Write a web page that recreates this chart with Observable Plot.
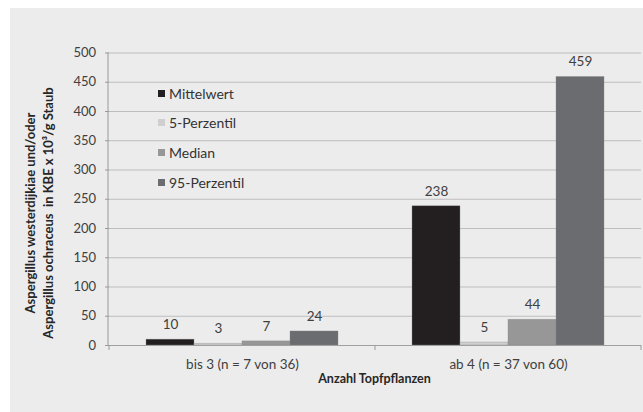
<!DOCTYPE html>
<html>
<head>
<meta charset="utf-8">
<script src="https://cdn.jsdelivr.net/npm/d3@7"></script>
<script src="https://cdn.jsdelivr.net/npm/@observablehq/plot@0.6"></script>
<style>
  html, body { margin: 0; padding: 0; background: #ffffff; }
  body { width: 643px; height: 412px; position: relative; overflow: hidden; font-family: Lato, "Open Sans", sans-serif; }
  #panel { position: absolute; left: 10px; top: 8px; width: 633px; height: 404px; background: #ececec; }
  #legend { position: absolute; left: 148px; top: 70.5px; font-size: 14px; color: #333333; }
  #legend .item { height: 29.6px; display: flex; align-items: center; }
  #legend .swatch { width: 7px; height: 7px; margin-right: 4px; }
</style>
</head>
<body>
<div id="panel">
  <div id="chart"></div>
  <div id="legend"></div>
</div>
<script>
// Pot-plant groups on the x axis
const groups = ["bis 3 (n = 7 von 36)", "ab 4 (n = 37 von 60)"];
// Statistics shown per group
const series = ["Mittelwert", "5-Perzentil", "Median", "95-Perzentil"];
// Values per statistic, one entry per group (KBE x 10³/g Staub)
const mittelwert = [10, 238];
const perzentil5 = [3, 5];
const median = [7, 44];
const perzentil95 = [24, 459];
// y-axis ticks
const yTicks = [0, 50, 100, 150, 200, 250, 300, 350, 400, 450, 500];
const colors = ["#231f20", "#cfcfcf", "#979798", "#6b6c6f"];

const valuesBySeries = [mittelwert, perzentil5, median, perzentil95];
const data = groups.flatMap((g, i) =>
  series.map((s, j) => ({group: g, series: s, value: valuesBySeries[j][i]}))
);

const W = 633, H = 404;
const plot = Plot.plot({
  width: W,
  height: H,
  marginLeft: 98,
  marginRight: 2,
  marginTop: 44.5,
  marginBottom: 67,
  style: {background: "transparent", fontFamily: "Lato, 'Open Sans', sans-serif", fontSize: "13px", color: "#404040"},
  fx: {domain: groups, padding: 0, label: null, axis: null},
  x: {domain: series, paddingInner: 0, paddingOuter: 0.747, axis: null},
  y: {domain: [0, 500], axis: null},
  color: {domain: series, range: colors},
  marks: [
    Plot.gridY(yTicks, {stroke: "#bdbdbd", strokeOpacity: 1, strokeWidth: 1}),
    Plot.axisY(yTicks, {tickSize: 4, tickPadding: 9.5, label: null, stroke: "#9a9a9a", fill: "#404040", fontSize: 13}),
    Plot.barY(data, {fx: "group", x: "series", y: "value", fill: "series", stroke: "#8c8c8c", strokeWidth: 0.6, strokeOpacity: 0.6}),
    Plot.ruleY([0], {stroke: "#a0a0a0", strokeWidth: 1.2}),
    Plot.text(data, {fx: "group", x: "series", y: "value", text: d => String(d.value), dy: -15, fill: "#404040", fontSize: 13.5}),
    Plot.axisFx({anchor: "bottom", tickSize: 0, tickPadding: 14, label: null, fill: "#404040", fontSize: 13.5})
  ]
});

document.getElementById("chart").appendChild(plot);

// Axis lines, category boundary ticks and axis titles
const svg = d3.select(plot);
const fx = plot.scale("fx");
const y = plot.scale("y");
const left = fx.range[0], right = fx.range[1];
const y0 = y.apply(0), y1 = y.apply(500);

svg.append("line")
  .attr("x1", left).attr("x2", left).attr("y1", y0).attr("y2", y1)
  .attr("stroke", "#9a9a9a").attr("stroke-width", 1);

const bounds = groups.map(g => fx.apply(g)).concat([right]);
svg.selectAll("line.boundary").data(bounds).join("line")
  .attr("class", "boundary")
  .attr("x1", d => d).attr("x2", d => d)
  .attr("y1", y0).attr("y2", y0 + 5)
  .attr("stroke", "#9a9a9a").attr("stroke-width", 1);

svg.append("text")
  .attr("x", (left + right) / 2)
  .attr("y", y0 + 33)
  .attr("text-anchor", "middle")
  .attr("dominant-baseline", "central")
  .attr("font-weight", "bold")
  .attr("font-size", "12.5px")
  .attr("fill", "#262626")
  .text("Anzahl Topfpflanzen");

const yTitle = svg.append("g").attr("transform", "translate(29,205) rotate(-90)");
yTitle.selectAll("text").data([
  "Aspergillus westerdijkiae und/oder",
  "Aspergillus ochraceus  in KBE x 10³/g Staub"
]).join("text")
  .attr("x", 0)
  .attr("y", (d, i) => (i - 0.5) * 17.5)
  .attr("text-anchor", "middle")
  .attr("dominant-baseline", "central")
  .attr("font-weight", "bold")
  .attr("font-size", "13px")
  .attr("fill", "#262626")
  .text(d => d);

// Legend
const legend = d3.select("#legend");
const items = legend.selectAll("div.item").data(series).join("div").attr("class", "item");
items.append("div").attr("class", "swatch").style("background", (d, i) => colors[i]);
items.append("span").text(d => d);
</script>
</body>
</html>
